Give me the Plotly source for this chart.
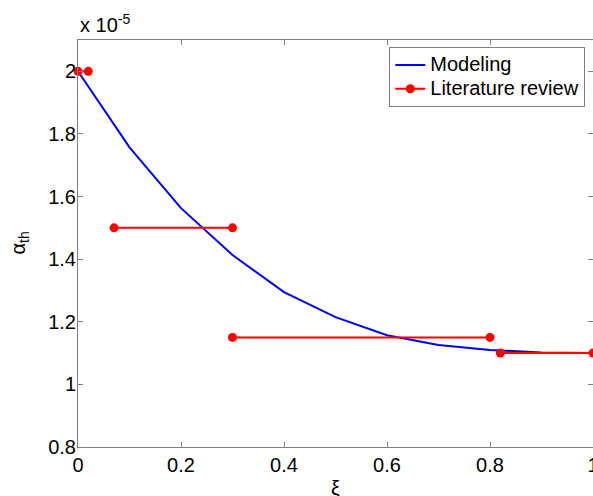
import plotly.graph_objects as go

# Data (alpha_th in units of 1e-5)
model_xi = [0.0, 0.1, 0.2, 0.3, 0.4, 0.5, 0.6, 0.7, 0.8, 0.9, 1.0]
model_alpha = [2.0, 1.757, 1.563, 1.413, 1.295, 1.215, 1.157, 1.126, 1.11, 1.102, 1.10]

lit_xi = [0.0, 0.02, None, 0.07, 0.30, None, 0.30, 0.80, None, 0.82, 1.0]
lit_alpha = [2.0, 2.0, None, 1.5, 1.5, None, 1.15, 1.15, None, 1.10, 1.10]

x_ticks = [0, 0.2, 0.4, 0.6, 0.8, 1.0]
x_ticklabels = ["0", "0.2", "0.4", "0.6", "0.8", "1"]
y_ticks = [0.8, 1.0, 1.2, 1.4, 1.6, 1.8, 2.0]
y_ticklabels = ["0.8", "1", "1.2", "1.4", "1.6", "1.8", "2"]

FONT = "Liberation Sans, Arial, sans-serif"
AX = "#808080"

def big(s):
    return '<span style="font-size:20px">' + s + '</span>'

fig = go.Figure()
fig.add_trace(go.Scatter(x=model_xi, y=model_alpha, mode="lines", name=big("Modeling"),
                         line=dict(color="#0000ff", width=2), cliponaxis=False))
fig.add_trace(go.Scatter(x=lit_xi, y=lit_alpha, mode="lines+markers", name=big("Literature review"),
                         line=dict(color="#ff0000", width=2),
                         marker=dict(color="#ff0000", size=9), cliponaxis=False,
                         connectgaps=False))

axis_common = dict(showgrid=False, zeroline=False, showline=True, linecolor=AX, linewidth=1,
                   mirror="allticks", ticks="inside", ticklen=5, tickcolor=AX,
                   ticklabeloverflow="allow", automargin=False,
                   tickfont=dict(family=FONT, size=20, color="black"))

fig.update_xaxes(range=[0, 1.0], tickvals=x_ticks, ticktext=x_ticklabels, **axis_common)
fig.update_yaxes(range=[0.8, 2.1], tickvals=y_ticks, ticktext=y_ticklabels,
                 ticklabelstandoff=-3, **axis_common)

fig.add_annotation(text="x 10<sup>-5</sup>", xref="paper", yref="paper", x=0.0, y=1.0,
                   xanchor="left", yanchor="bottom", yshift=2, showarrow=False,
                   font=dict(family=FONT, size=20, color="black"))
fig.add_annotation(text="α<sub>th</sub>", xref="paper", yref="paper", x=0, y=0.5,
                   xanchor="center", yanchor="middle", xshift=-59, textangle=-90, showarrow=False,
                   font=dict(family=FONT, size=20, color="black"))
fig.add_annotation(text="ξ", xref="paper", yref="paper", x=0.5, y=0,
                   xanchor="center", yanchor="top", yshift=-28, showarrow=False,
                   font=dict(family=FONT, size=20, color="black"))

fig.update_layout(
    width=593, height=496,
    margin=dict(l=78, r=0, t=40, b=49),
    plot_bgcolor="white", paper_bgcolor="white",
    showlegend=True,
    legend=dict(x=0.985, y=0.9828, xanchor="right", yanchor="top",
                bgcolor="white", bordercolor=AX, borderwidth=1,
                font=dict(family=FONT, size=16, color="black"),
                itemwidth=30, tracegroupgap=0),
)

fig.write_html("out.html", config={"displayModeBar": False}, post_script=(
    "document.body.style.margin='0';"
    "document.body.style.overflow='hidden';"
    "document.documentElement.style.overflow='hidden';"))
